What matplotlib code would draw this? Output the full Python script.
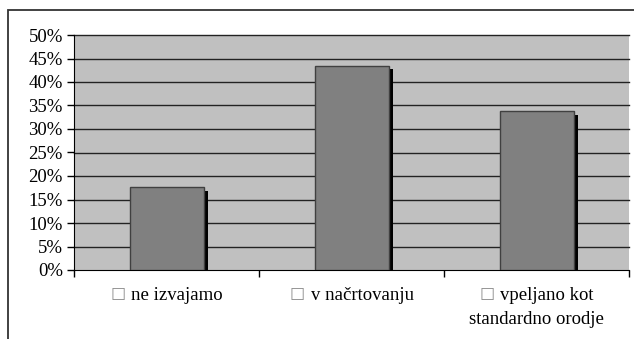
import matplotlib.pyplot as plt
import matplotlib.patheffects as pe
from matplotlib.patches import Rectangle
from matplotlib.ticker import FuncFormatter, MultipleLocator

categories = ["ne izvajamo", "v načrtovanju", "vpeljano kot\nstandardno orodje"]
shares = [0.176, 0.435, 0.338]

serif = ["Liberation Serif", "DejaVu Serif"]
fsize = 13.5

fig = plt.figure(figsize=(6.34, 3.39), dpi=100)
fig.patch.set_facecolor("white")

# outer frame of the chart object (runs off the right and bottom edge)
fig.patches.append(Rectangle((8 / 634, -0.1), 1.2, 1 - 10 / 339 + 0.1,
                             transform=fig.transFigure, fill=False,
                             edgecolor="#333333", linewidth=1.3))

ax = fig.add_axes([74 / 634, 69 / 339, 555 / 634, 235 / 339])
ax.set_facecolor("#c0c0c0")

x = list(range(len(categories)))
ax.set_xlim(-0.5, len(categories) - 0.5)
ax.set_ylim(0, 0.5)

for yv in [i * 0.05 for i in range(1, 11)]:
    ax.axhline(yv, color="#222222", linewidth=1.0, zorder=1, clip_on=False)

bars = ax.bar(x, shares, width=0.4, color="#808080", edgecolor="#404040",
              linewidth=1.0, zorder=3)
for b in bars:
    b.set_path_effects([pe.SimplePatchShadow(offset=(3, -2.5), shadow_rgbFace="black", alpha=1.0),
                        pe.Normal()])

for side in ["top", "right"]:
    ax.spines[side].set_visible(False)
ax.spines["left"].set_color("black")
ax.spines["bottom"].set_color("black")

ax.yaxis.set_major_locator(MultipleLocator(0.05))
ax.yaxis.set_major_formatter(FuncFormatter(lambda v, p: f"{round(v * 100)}%"))
ax.tick_params(axis="y", direction="out", length=5, width=1, pad=3)
for lab in ax.get_yticklabels():
    lab.set_family(serif)
    lab.set_fontsize(fsize)

ax.set_xticks([-0.5, 0.5, 1.5, 2.5])
ax.set_xticklabels([])
ax.tick_params(axis="x", direction="out", length=5, width=1)

# category labels: gray box marker + text, lines placed by hand
renderer = fig.canvas.get_renderer()
base = -30
step = 24
gap = 6
for xi, lab in zip(x, categories):
    lines = lab.split("\n")
    box = ax.annotate("\u25a1", xy=(xi, 0), xytext=(0, base), textcoords="offset pixels",
                      ha="left", va="baseline", family="DejaVu Sans", fontsize=11.5,
                      color="#8c8c8c")
    first = ax.annotate(lines[0], xy=(xi, 0), xytext=(0, base), textcoords="offset pixels",
                        ha="left", va="baseline", family=serif, fontsize=fsize)
    wb = box.get_window_extent(renderer).width
    wt = first.get_window_extent(renderer).width
    left = -(wb + gap + wt) / 2
    box.set_position((left, base + 2.5))
    first.set_position((left + wb + gap, base))
    for i, line in enumerate(lines[1:], start=1):
        ax.annotate(line, xy=(xi, 0), xytext=(0, base - i * step), textcoords="offset pixels",
                    ha="center", va="baseline", family=serif, fontsize=fsize)

fig.savefig("out.png", dpi=100)
